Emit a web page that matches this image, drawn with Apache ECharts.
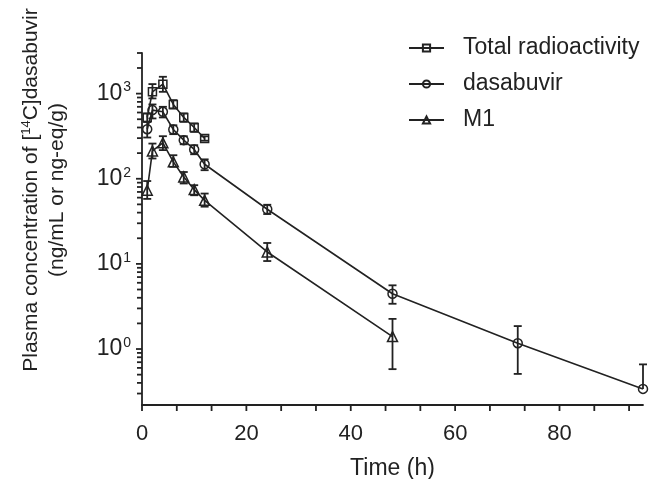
<!DOCTYPE html>
<html>
<head>
<meta charset="utf-8">
<script src="https://cdn.jsdelivr.net/npm/echarts@6/dist/echarts.min.js"></script>
<style>html,body{margin:0;padding:0;background:#fff}#c{width:649px;height:479px}</style>
</head>
<body>
<div id="c"></div>
<script>
// ---- data ----
const tTotal = [1, 2, 4, 6, 8, 10, 12];
const total = [525, 1050, 1290, 746, 525, 400, 297];
const totalLow = [466, 878, 1050, 669, 466, 355, 280];
const totalHigh = [585, 1294, 1577, 838, 585, 446, 315];

const tDasa = [1, 2, 4, 6, 8, 10, 12, 24, 48, 72, 96];
const dasa = [382, 640, 611, 379, 284, 221, 148, 43.8, 4.46, 1.17, 0.34];
const dasaLow = [305, 511, 525, 334, 254, 194, 126, 38.5, 3.4, 0.51, null];
const dasaHigh = [466, 746, 700, 425, 316, 248, 169, 49.5, 5.6, 1.86, 0.66];

const tM1 = [1, 2, 4, 6, 8, 10, 12, 24, 48];
const m1 = [73.3, 212, 264, 158, 105, 74.6, 55.8, 13.8, 1.40];
const m1Low = [58, 173, 217, 138, 88, 64, 47, 10.8, 0.58];
const m1High = [94, 259, 316, 189, 120, 84, 67, 17.6, 2.26];

const seriesNames = ['Total radioactivity', 'dasabuvir', 'M1'];
const xTicks = [0, 6.667, 13.333, 20, 26.667, 33.333, 40, 46.667, 53.333, 60, 66.667, 73.333, 80, 86.667, 93.333];
const yTicks = [0.3, 0.4, 0.5, 0.6, 0.7, 0.8, 0.9, 1, 2, 3, 4, 5, 6, 7, 8, 9, 10,
  20, 30, 40, 50, 60, 70, 80, 90, 100, 200, 300, 400, 500, 600, 700, 800, 900, 1000, 2000, 3000];
const xMin = 0, xMax = 96, yMin = 0.22, yMax = 3000;

// ---- chart ----
const INK = '#222';
const TICK = '#222';
const FONT = '"Liberation Sans", Arial, Helvetica, sans-serif';
const chart = echarts.init(document.getElementById('c'));

function pairs(t, v) { return t.map((x, i) => [x, v[i]]); }
function errData(t, v, lo, hi) { return t.map((x, i) => [x, v[i], lo[i] == null ? v[i] : lo[i], hi[i], lo[i] == null ? 0 : 1]); }

function errRender(params, api) {
  const x = api.value(0);
  const lo = api.coord([x, api.value(2)]);
  const hi = api.coord([x, api.value(3)]);
  const hasLow = api.value(4) === 1;
  const w = 4;
  const st = { stroke: INK, lineWidth: 1.8 };
  const ch = [
    { type: 'line', shape: { x1: hi[0], y1: hi[1], x2: lo[0], y2: lo[1] }, style: st },
    { type: 'line', shape: { x1: hi[0] - w, y1: hi[1], x2: hi[0] + w, y2: hi[1] }, style: st }
  ];
  if (hasLow) ch.push({ type: 'line', shape: { x1: lo[0] - w, y1: lo[1], x2: lo[0] + w, y2: lo[1] }, style: st });
  return { type: 'group', children: ch };
}

function lineSeries(name, data, symbol, size) {
  return {
    name, type: 'line', data, symbol, symbolSize: size, z: 3,
    lineStyle: { color: INK, width: 1.6 },
    itemStyle: { color: 'rgba(255,255,255,0)', borderColor: INK, borderWidth: 1.5 },
    emphasis: { disabled: true }, animation: false
  };
}
function errSeries(data) {
  return { type: 'custom', renderItem: errRender, data, z: 2, silent: true, animation: false,
    encode: { x: 0, y: [1, 2, 3] } };
}

// y-axis tick marks drawn by one custom item that walks the yTicks list through the axis scale
function yTickRender(p, api) {
  const left = p.coordSys.x;
  const children = yTicks.map(v => {
    const c = api.coord([xMin, v]);
    const e = Math.log10(v);
    const len = Math.abs(e - Math.round(e)) < 1e-6 ? 6 : 5;
    return { type: 'rect', shape: { x: left - len, y: c[1] - 0.9, width: len, height: 1.8 }, style: { fill: TICK } };
  });
  return { type: 'group', children };
}

chart.setOption({
  animation: false,
  backgroundColor: '#fff',
  grid: { left: 142, right: 6, top: 53, bottom: 74, containLabel: false, outerBoundsMode: 'none' },
  legend: {
    data: seriesNames, orient: 'vertical', left: 403, top: 31,
    itemWidth: 35, itemHeight: 9, itemGap: 12,
    textStyle: { fontFamily: FONT, fontSize: 23, color: INK, lineHeight: 24, padding: [0, 0, 0, 14] }
  },
  xAxis: {
    type: 'value', min: xMin, max: xMax, interval: 20,
    axisLine: { lineStyle: { color: INK, width: 1.8 } },
    axisTick: { show: false }, splitLine: { show: false },
    axisLabel: { fontFamily: FONT, fontSize: 22, color: INK, margin: 18, showMaxLabel: false,
      formatter: v => (v % 20 === 0 ? String(v) : '') },
    name: 'Time (h)', nameLocation: 'middle', nameGap: 52,
    nameTextStyle: { fontFamily: FONT, fontSize: 23, color: INK }
  },
  yAxis: {
    type: 'log', logBase: 10, min: yMin, max: yMax,
    axisLine: { lineStyle: { color: INK, width: 1.8 } },
    axisTick: { show: false }, splitLine: { show: false }, minorTick: { show: false },
    axisLabel: {
      fontFamily: FONT, fontSize: 23, color: INK, margin: 11, showMinLabel: false, showMaxLabel: false,
      formatter: v => {
        const e = Math.log10(v);
        if (Math.abs(e - Math.round(e)) < 1e-6) return '10{sup|' + Math.round(e) + '}';
        return '';
      },
      rich: { sup: { fontFamily: FONT, fontSize: 14, color: INK, padding: [0, 0, 12, 1] } }
    }
  },
  graphic: [
    { type: 'text', x: 31, y: 190, rotation: Math.PI / 2, silent: true,
      style: { text: 'Plasma concentration of [{sup|14}C]dasabuvir', fill: INK,
        font: '21px ' + FONT, align: 'center', verticalAlign: 'middle',
        rich: { sup: { fontSize: 13, fontFamily: FONT, fill: INK, padding: [0, 0, 10, 0] } } } },
    { type: 'text', x: 57, y: 190, rotation: Math.PI / 2, silent: true,
      style: { text: '(ng/mL or ng-eq/g)', fill: INK, font: '21px ' + FONT,
        align: 'center', verticalAlign: 'middle' } }
  ],
  series: [
    lineSeries(seriesNames[0], pairs(tTotal, total), 'rect', 8),
    lineSeries(seriesNames[1], pairs(tDasa, dasa), 'circle', 9),
    lineSeries(seriesNames[2], pairs(tM1, m1), 'triangle', 10),
    errSeries(errData(tTotal, total, totalLow, totalHigh)),
    errSeries(errData(tDasa, dasa, dasaLow, dasaHigh)),
    errSeries(errData(tM1, m1, m1Low, m1High)),
    // x-axis tick marks (outward, downward)
    { type: 'custom', silent: true, animation: false, z: 5, clip: false,
      data: xTicks.map(v => [v, yMin]), encode: { x: 0, y: 1 },
      renderItem: (p, api) => {
        const c = api.coord([api.value(0), api.value(1)]);
        return { type: 'rect', shape: { x: c[0] - 0.9, y: c[1], width: 1.8, height: 6 }, style: { fill: INK } };
      } },
    // y-axis tick marks (outward, to the left)
    { type: 'custom', silent: true, animation: false, z: 5, clip: false,
      data: [[xMin + 1, 1]], encode: { x: 0, y: 1 },
      renderItem: yTickRender }
  ]
});
</script>
</body>
</html>
